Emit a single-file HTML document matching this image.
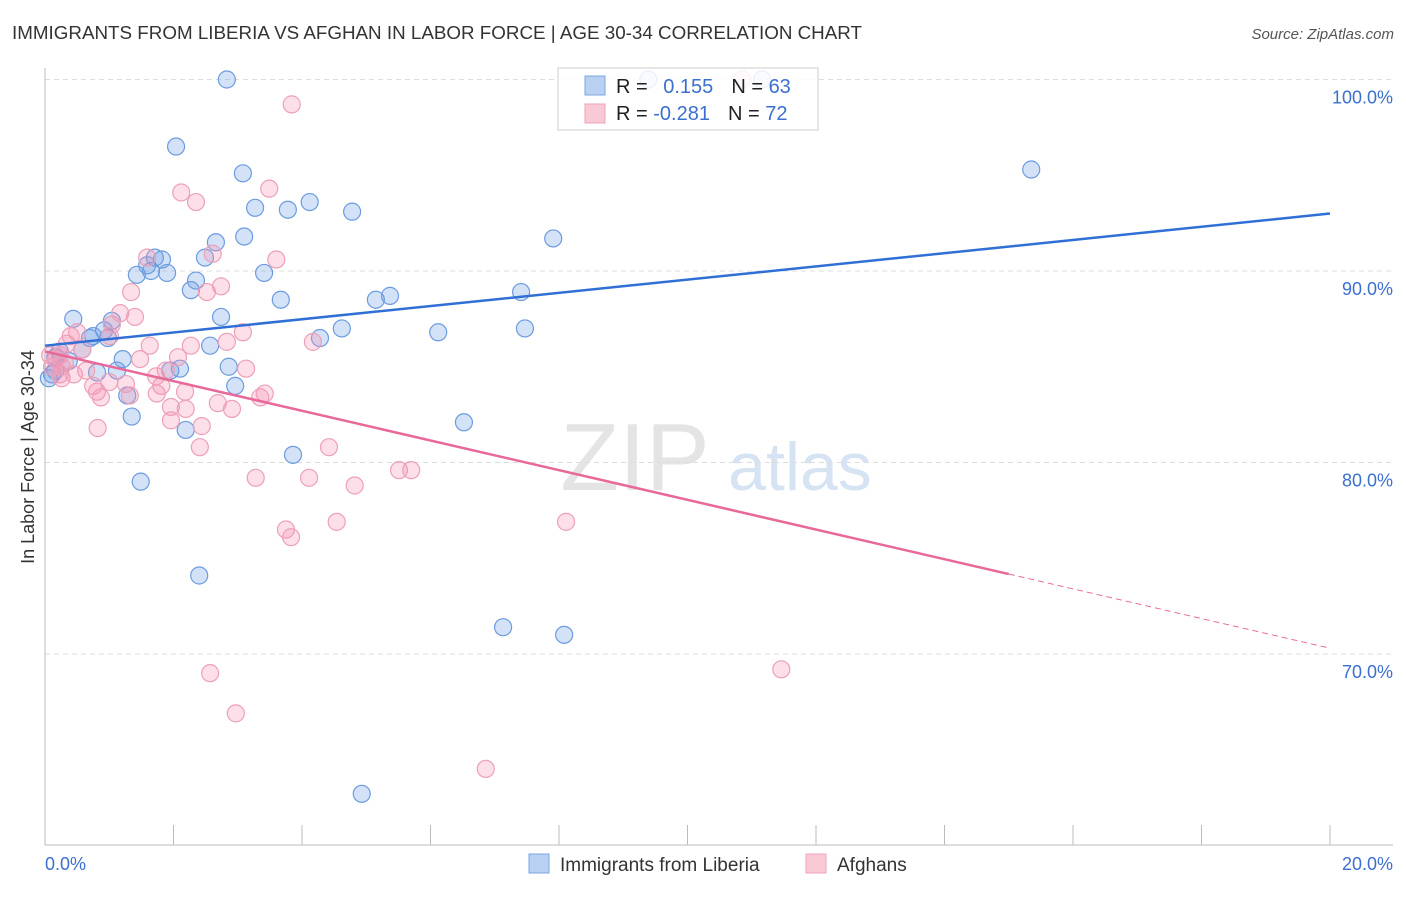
<!DOCTYPE html>
<html><head><meta charset="utf-8"><style>
body{margin:0;background:#fff;font-family:"Liberation Sans",sans-serif}
svg text{font-family:"Liberation Sans",sans-serif}
</style></head><body>
<svg width="1406" height="892">
<text x="12" y="39" font-size="18" fill="#333" textLength="850" lengthAdjust="spacingAndGlyphs">IMMIGRANTS FROM LIBERIA VS AFGHAN IN LABOR FORCE | AGE 30-34 CORRELATION CHART</text>
<text x="1394" y="39" font-size="15" fill="#555" font-style="italic" text-anchor="end">Source: ZipAtlas.com</text>
<text x="635" y="490" font-size="96" fill="#e4e4e4" font-family="Liberation Serif" text-anchor="middle">ZIP</text>
<text x="800" y="490" font-size="68" fill="#d6e3f3" text-anchor="middle">atlas</text>
<g id="grid"></g><g id="axes"></g><g id="marks"></g><g id="lines"></g>
<g>
<rect x="558" y="68" width="260" height="62" fill="rgba(255,255,255,0.85)" stroke="#ccc"/>
<rect x="585" y="76" width="20" height="19" fill="#b8d0f2" stroke="#7aa6e3"/>
<rect x="585" y="104" width="20" height="19" fill="#f9c9d6" stroke="#eea3ba"/>
<text x="616" y="93" font-size="20" fill="#222">R = <tspan fill="#3b6fd0" dx="10">0.155</tspan><tspan fill="#222" dx="18">N = </tspan><tspan fill="#3b6fd0">63</tspan></text>
<text x="616" y="120" font-size="20" fill="#222">R = <tspan fill="#3b6fd0">-0.281</tspan><tspan fill="#222" dx="18">N = </tspan><tspan fill="#3b6fd0">72</tspan></text>
</g>
<text transform="translate(34,457) rotate(-90)" font-size="18" fill="#333" text-anchor="middle">In Labor Force | Age 30-34</text>
<g>
<rect x="529" y="854" width="20" height="19" fill="#b8d0f2" stroke="#7aa6e3"/>
<text x="560" y="871" font-size="19" fill="#333">Immigrants from Liberia</text>
<rect x="806" y="854" width="20" height="19" fill="#f9c9d6" stroke="#eea3ba"/>
<text x="837" y="871" font-size="19" fill="#333">Afghans</text>
</g>
</svg>
<script>
const yTicks=[100,90,80,70];
const yTickLabels=["100.0%","90.0%","80.0%","70.0%"];
const xTickVals=[0,2,4,6,8,10,12,14,16,18,20];
const liberiaX=[2.83,2.04,3.08,3.27,3.78,4.12,4.78,15.35,3.10,2.66,2.49,1.82,1.71,1.59,1.43,1.65,1.90,3.41,2.35,2.27,3.67,5.15,5.37,7.41,7.91,0.44,1.04,2.74,0.92,0.75,0.70,0.98,4.28,4.62,6.12,7.47,0.58,0.23,0.16,0.37,1.21,2.57,2.96,2.86,2.10,1.95,1.12,0.81,0.16,0.11,0.06,1.28,1.35,2.19,6.52,3.86,1.49,2.40,7.13,8.08,4.93,9.39,11.16];
const liberiaY=[100.0,96.5,95.1,93.3,93.2,93.6,93.1,95.3,91.8,91.5,90.7,90.6,90.7,90.3,89.8,90.0,89.9,89.9,89.5,89.0,88.5,88.5,88.7,88.9,91.7,87.5,87.4,87.6,86.9,86.6,86.5,86.5,86.5,87.0,86.8,87.0,85.9,85.8,85.5,85.3,85.4,86.1,84.0,85.0,84.9,84.8,84.8,84.7,84.8,84.6,84.4,83.5,82.4,81.7,82.1,80.4,79.0,74.1,71.4,71.0,62.7,100.0,100.0];
const afghanX=[3.84,2.12,2.35,3.49,1.59,2.61,3.60,1.34,2.52,2.74,1.17,1.40,3.08,4.17,0.50,0.40,1.01,1.04,0.58,0.17,0.31,0.23,0.26,0.45,1.63,1.48,2.07,2.27,2.83,3.13,1.88,1.73,1.81,1.26,1.00,0.75,0.81,0.87,1.74,2.18,3.42,3.35,1.96,2.19,2.69,2.91,1.96,2.44,0.82,2.41,4.42,3.28,4.11,4.82,5.51,5.70,3.75,3.83,4.54,8.11,2.57,2.97,6.86,11.46,10.85,0.34,0.23,0.08,0.11,0.26,0.64,1.32];
const afghanY=[98.7,94.1,93.6,94.3,90.7,90.9,90.6,88.9,88.9,89.2,87.8,87.6,86.8,86.3,86.8,86.6,86.6,87.2,85.9,85.4,85.2,84.6,84.4,84.6,86.1,85.4,85.5,86.1,86.3,84.9,84.8,84.5,84.0,84.1,84.2,84.0,83.7,83.4,83.6,83.7,83.6,83.4,82.9,82.8,83.1,82.8,82.2,81.9,81.8,80.8,80.8,79.2,79.2,78.8,79.6,79.6,76.5,76.1,76.9,76.9,69.0,66.9,64.0,69.2,100.0,86.2,85.6,85.6,85.0,85.0,84.8,83.5];
const liberiaTrend=[86.1,93.0];
const afghanTrend=[85.8,70.3];
const afghanSolidEnd=15.0;

const NS="http://www.w3.org/2000/svg";
const X=v=>45+v*64.25;
const Y=v=>79.5+(100-v)*19.15;
function mk(tag,attrs,parent){const e=document.createElementNS(NS,tag);for(const k in attrs)e.setAttribute(k,attrs[k]);document.getElementById(parent).appendChild(e);return e;}
yTicks.forEach((t,i)=>{
  const l=mk('line',{x1:45,x2:1393,y1:Y(t),y2:Y(t),stroke:'#ddd','stroke-dasharray':'5,4'},'grid');
  
  
  const tx=mk('text',{x:1393,y:Y(t)+24,'font-size':18,fill:'#3b6fd0','text-anchor':'end'},'axes');
  tx.textContent=yTickLabels[i];
  
  
});
const ax=mk('line',{x1:45,x2:1393,y1:845,y2:845,stroke:'#bbb'},'axes');


const ay=mk('line',{x1:45,x2:45,y1:68,y2:845,stroke:'#bbb'},'axes');


xTickVals.forEach(v=>{
  const t=mk('line',{x1:X(v),x2:X(v),y1:825,y2:845,stroke:'#bbb'},'axes');
  
  
});
const xl0=mk('text',{x:45,y:870,'font-size':18,fill:'#3b6fd0'},'axes');xl0.textContent='0.0%';


const xl1=mk('text',{x:1393,y:870,'font-size':18,fill:'#3b6fd0','text-anchor':'end'},'axes');xl1.textContent='20.0%';


liberiaX.forEach((x,i)=>{
  const c=mk('circle',{cx:X(x),cy:Y(liberiaY[i]),r:8.5,fill:'rgba(110,160,230,0.3)',stroke:'#6c9be0','stroke-width':1.2},'marks');
  
  
});
afghanX.forEach((x,i)=>{
  const c=mk('circle',{cx:X(x),cy:Y(afghanY[i]),r:8.5,fill:'rgba(245,150,180,0.3)',stroke:'#eda0b8','stroke-width':1.2},'marks');
  
  
});
const bl=mk('line',{x1:X(0),y1:Y(liberiaTrend[0]),x2:X(20),y2:Y(liberiaTrend[1]),stroke:'#2f6fd6','stroke-width':2.5},'lines');


const am=afghanTrend[0]+(afghanTrend[1]-afghanTrend[0])*afghanSolidEnd/20;
const pl=mk('line',{x1:X(0),y1:Y(afghanTrend[0]),x2:X(afghanSolidEnd),y2:Y(am),stroke:'#e8689a','stroke-width':2.5},'lines');


const pd=mk('line',{x1:X(afghanSolidEnd),y1:Y(am),x2:X(20),y2:Y(afghanTrend[1]),stroke:'#e8689a','stroke-width':1,'stroke-dasharray':'6,4'},'lines');


</script>
</body></html>
